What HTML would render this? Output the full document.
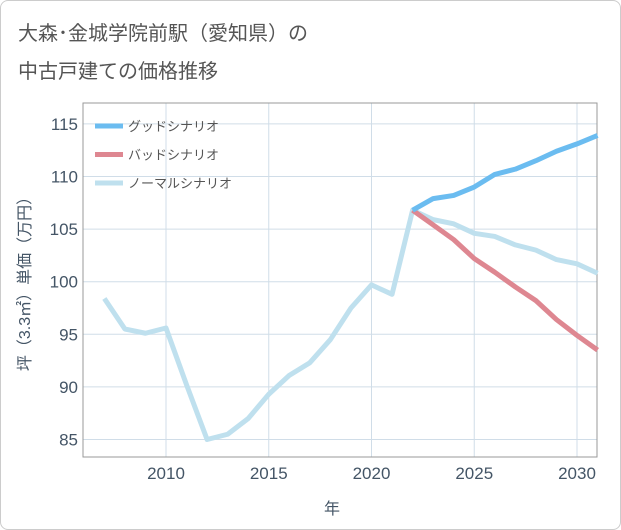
<!DOCTYPE html>
<html><head><meta charset="utf-8"><style>
body{margin:0;background:#fff;}
#wrap{position:relative;width:619px;height:528px;border:1px solid #ccc;border-radius:8px;background:#fff;overflow:hidden;font-family:"Liberation Sans","Noto Sans CJK JP",sans-serif;}
</style></head><body>
<div id="wrap">
<svg id="c" width="621" height="530" style="position:absolute;left:-1px;top:-1px"></svg>
</div>
<script>
const years=[2007,2008,2009,2010,2011,2012,2013,2014,2015,2016,2017,2018,2019,2020,2021,2022,2023,2024,2025,2026,2027,2028,2029,2030,2031];
const normal=[98.4,95.5,95.1,95.6,90.2,85.0,85.5,87.0,89.3,91.1,92.3,94.5,97.5,99.7,98.8,106.8,105.9,105.5,104.6,104.3,103.5,103.0,102.1,101.7,100.8];
const goodYears=[2022,2023,2024,2025,2026,2027,2028,2029,2030,2031];
const good=[106.8,107.9,108.2,109.0,110.2,110.7,111.5,112.4,113.1,113.9];
const bad=[106.8,105.4,104.0,102.2,100.9,99.5,98.2,96.4,94.9,93.5];
const xTicks=[2010,2015,2020,2025,2030];
const yTicks=[85,90,95,100,105,110,115];
const X=v=>166+(v-2010)*20.55;
const Y=v=>439.5-(v-85)*10.52;
const L=83,R=597,T=103,B=457;
const s=document.getElementById('c');const NS='http://www.w3.org/2000/svg';
function el(t,a,txt){const e=document.createElementNS(NS,t);for(const k in a)e.setAttribute(k,a[k]);if(txt!=null)e.textContent=txt;s.appendChild(e);return e;}
let e;
e=el('text',{x:18,y:40,'font-size':20,fill:'#555'},'大森･金城学院前駅（愛知県）の');
e=el('text',{x:18,y:78,'font-size':20,fill:'#555'},'中古戸建ての価格推移');
xTicks.forEach(v=>{e=el('line',{x1:X(v),x2:X(v),y1:T,y2:B,stroke:'#d0dde8','stroke-width':1});
e=el('text',{x:X(v),y:479,'font-size':17,fill:'#445566','text-anchor':'middle'},v);});
yTicks.forEach(v=>{e=el('line',{x1:L,x2:R,y1:Y(v),y2:Y(v),stroke:'#d0dde8','stroke-width':1});
e=el('text',{x:78,y:Y(v)+6,'font-size':17,fill:'#445566','text-anchor':'end'},v);});
e=el('rect',{x:L,y:T,width:R-L,height:B-T,fill:'none',stroke:'#999','stroke-width':1});
function line(xs,ys,c,n){e=el('polyline',{points:xs.map((x,i)=>X(x)+','+Y(ys[i])).join(' '),fill:'none',stroke:c,'stroke-width':5,'stroke-linejoin':'round'});}
line(years,normal,'#bfe0ee','normal-line');
line(goodYears,bad,'#de8791','bad-line');
line(goodYears,good,'#6bbcf0','good-line');
const leg=[['グッドシナリオ','#6bbcf0'],['バッドシナリオ','#de8791'],['ノーマルシナリオ','#bfe0ee']];
leg.forEach((l,i)=>{const y=126+i*28.5;
e=el('line',{x1:95,x2:123,y1:y,y2:y,stroke:l[1],'stroke-width':5});
e=el('text',{x:128,y:y+5,'font-size':13,fill:'#555'},l[0]);});
e=el('text',{x:332,y:514,'font-size':16,fill:'#445566','text-anchor':'middle'},'年');
e=el('text',{x:0,y:0,'font-size':16,fill:'#445566','text-anchor':'middle',transform:'translate(30,280) rotate(-90)'},'坪（3.3㎡）単価（万円）');
</script>
</body></html>
